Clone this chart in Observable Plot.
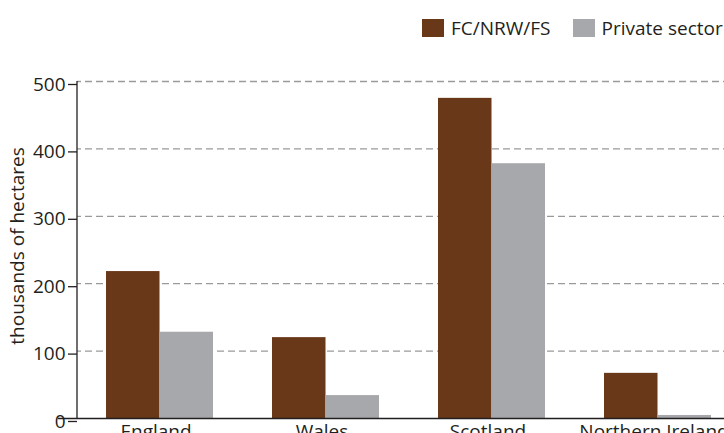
<!DOCTYPE html>
<html>
<head>
<meta charset="utf-8">
<script src="https://cdn.jsdelivr.net/npm/d3@7"></script>
<script src="https://cdn.jsdelivr.net/npm/@observablehq/plot@0.6"></script>
<style>
  html, body { margin: 0; padding: 0; overflow: hidden; background: #fff; width: 724px; height: 433px; }
  body { position: relative; font-family: "Open Sans", sans-serif; color: #231f20; }
  #legend { position: absolute; top: 15px; left: 422px; white-space: nowrap; font-size: 19px; display: flex; align-items: center; }
  #legend .sw { display: inline-block; width: 22px; height: 18px; margin-right: 7px; }
  #legend .item { display: inline-flex; align-items: center; margin-right: 22px; }
  #chart { position: absolute; top: 0; left: 0; }
</style>
</head>
<body>
<div id="legend"></div>
<div id="chart"></div>
<script>
const countries = ["England", "Wales", "Scotland", "Northern Ireland"];
const seriesNames = ["FC/NRW/FS", "Private sector"];
const publicValues = [218, 120, 475, 67];
const privateValues = [128, 34, 378, 4.5];
const yTicks = [0, 100, 200, 300, 400, 500];
const colors = ["#693819", "#a7a8ab"];

const rows = countries.flatMap((c, i) => [
  {country: c, series: seriesNames[0], value: publicValues[i]},
  {country: c, series: seriesNames[1], value: privateValues[i]}
]);

// legend
const legend = document.getElementById("legend");
seriesNames.forEach((s, i) => {
  const item = document.createElement("span");
  item.className = "item";
  const sw = document.createElement("span");
  sw.className = "sw";
  sw.style.background = colors[i];
  item.appendChild(sw);
  item.appendChild(document.createTextNode(s));
  legend.appendChild(item);
});

// vertical axis line drawn from the y scale
function yAxisLine(index, scales, values, dimensions) {
  const y = scales.y;
  const g = d3.create("svg:g");
  g.append("line")
    .attr("x1", dimensions.marginLeft).attr("x2", dimensions.marginLeft)
    .attr("y1", y(yTicks[yTicks.length - 1])).attr("y2", y(yTicks[0]))
    .attr("stroke", "#231f20").attr("stroke-width", 1.3);
  return g.node();
}

const half = 53.5;
const chart = Plot.plot({
  width: 724,
  height: 445,
  marginTop: 81,
  marginBottom: 27,
  marginLeft: 77,
  marginRight: -17,
  style: {fontFamily: "'Open Sans', sans-serif", fontSize: "19px", color: "#231f20", background: "transparent", overflow: "visible"},
  x: {domain: countries, paddingInner: 0.355, paddingOuter: 0.1775, label: null},
  y: {domain: [0, 500], label: null},
  color: {domain: seriesNames, range: colors},
  marks: [
    Plot.ruleY(yTicks.filter(d => d > 0), {stroke: "#9a9a9a", strokeWidth: 1.3, strokeDasharray: "7,4", strokeDashoffset: -8}),
    Plot.barY(rows.filter(d => d.series === seriesNames[0]), {x: "country", y: "value", fill: "series", insetRight: half, insetLeft: 0}),
    Plot.barY(rows.filter(d => d.series === seriesNames[1]), {x: "country", y: "value", fill: "series", insetLeft: half, insetRight: 0}),
    Plot.ruleY([0], {stroke: "#231f20", strokeWidth: 1.3, insetLeft: -19}),
    yAxisLine,
    Plot.axisY({ticks: yTicks, tickSize: 9, tickPadding: 3, stroke: "#231f20", strokeWidth: 1.3, strokeOpacity: 1, label: null, dy: 3, fill: "#231f20"}),
    Plot.axisX({tickSize: 0, tickPadding: 6, label: null, dx: -4, fill: "#231f20"}),
    Plot.text(["thousands of hectares"], {frameAnchor: "left", dx: -60, rotate: -90, textAnchor: "middle", fontSize: 19, fill: "#231f20", dy: -4})
  ]
});
document.getElementById("chart").appendChild(chart);
</script>
</body>
</html>
